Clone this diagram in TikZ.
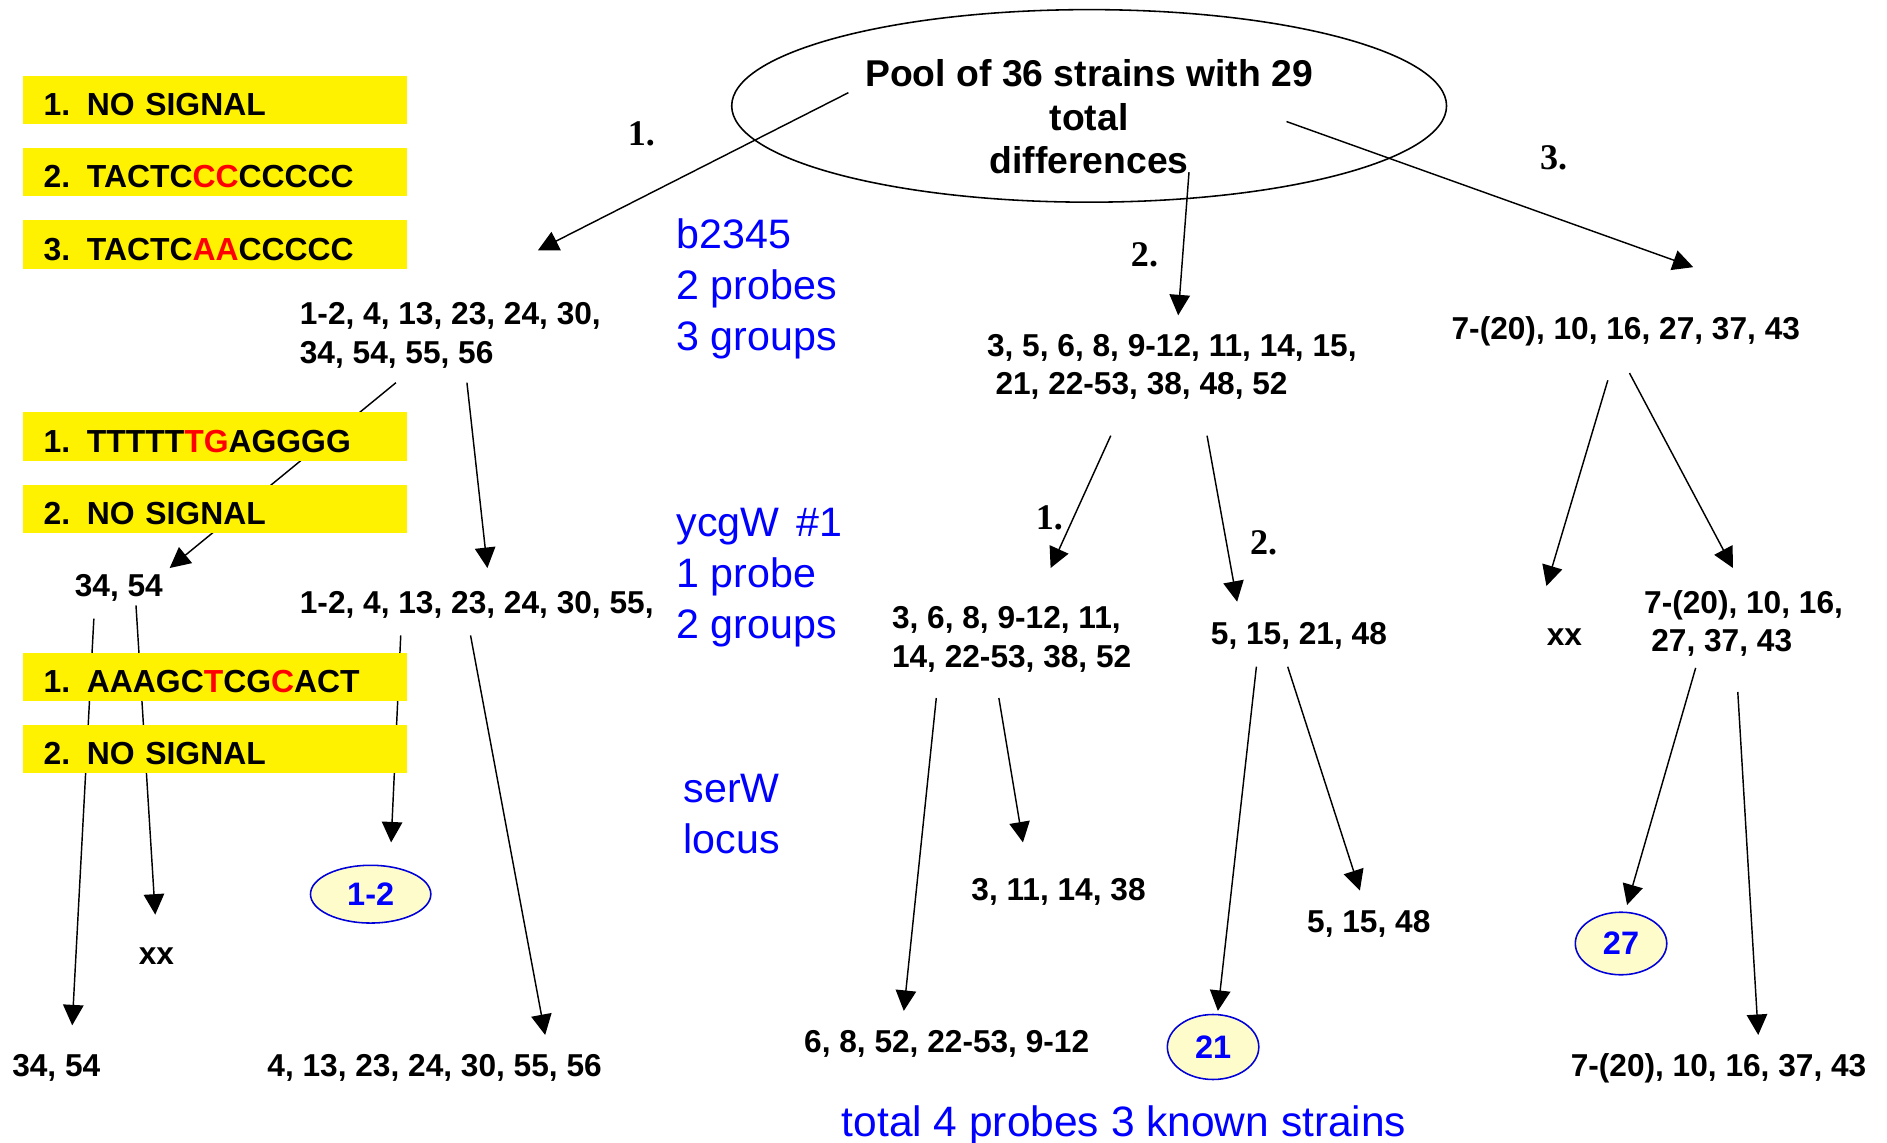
\documentclass[tikz,border=0pt]{standalone}
\usepackage{fontspec}
\setmainfont{Liberation Sans}
\newfontfamily\serifb{Liberation Serif}
\usetikzlibrary{arrows.meta,shapes.geometric}
\newcommand\boxtxt[2]{\makebox[36pt][l]{#1}#2}
\begin{document}
\begin{tikzpicture}[x=1pt,y=-1pt,
  txt/.style={inner sep=0pt, anchor=west, yshift=-2.5pt, font=\fontsize{26.3}{32}\selectfont\bfseries, align=left},
  blu/.style={inner sep=0pt, anchor=west, yshift=-3pt, font=\fontsize{34.2}{42.5}\selectfont, text=blue, align=left},
  ybox/.style={fill=yellow, anchor=north west, minimum height=40pt, text height=33pt, text depth=7pt, text width=285pt, inner xsep=17pt, inner ysep=0pt, align=left, font=\fontsize{26.5}{30}\selectfont\bfseries},
  arr/.style={-{Triangle[length=17pt,width=17pt]}, line width=1.2pt},
  lab/.style={font=\serifb\fontsize{30}{34}\selectfont\bfseries, inner sep=0pt},
  oval/.style={ellipse, draw=blue!85!black, fill=yellow!20, line width=1.3pt, text=blue, font=\fontsize{27}{30}\selectfont\bfseries, inner sep=0pt}]
\useasboundingbox (0,0) rectangle (1568,949);

% main ellipse and title
\node[ellipse, draw, line width=1.3pt, minimum width=594pt, minimum height=160pt, inner sep=0pt] (pool) at (905,88) {};
\node[inner sep=0pt, align=center, font=\fontsize{31}{36}\selectfont\bfseries] (title) at (905,97) {Pool of 36 strains with 29\\total\\differences};

% step labels
\node[lab] (s1) at (533,111) {1.};
\node[lab] (s2) at (951,212) {2.};
\node[lab] (s3) at (1291,131) {3.};
\node[lab] (s21) at (872,430) {1.};
\node[lab] (s22) at (1050,451) {2.};

% text groups
\node[txt] (A) at (249,276) {1-2, 4, 13, 23, 24, 30,\\34, 54, 55, 56};
\node[txt] (B) at (820,302.5) {3, 5, 6, 8, 9-12, 11, 14, 15,\\\hspace*{7pt}21, 22-53, 38, 48, 52};
\node[txt] (C) at (1206,273) {7-(20), 10, 16, 27, 37, 43};
\node[txt] (D) at (62,486) {34, 54};
\node[txt] (E) at (249,500) {1-2, 4, 13, 23, 24, 30, 55,};
\node[txt] (F) at (741,529) {3, 6, 8, 9-12, 11,\\14, 22-53, 38, 52};
\node[txt] (G) at (1006,526) {5, 15, 21, 48};
\node[txt, anchor=center] (H) at (1300,527) {xx};
\node[txt] (I) at (1366,515.5) {7-(20), 10, 16,\\\hspace*{6pt}27, 37, 43};
\node[txt, anchor=center] (X2) at (130,792) {xx};
\node[txt] (L1) at (10,885) {34, 54};
\node[txt] (L2) at (222,885) {4, 13, 23, 24, 30, 55, 56};
\node[txt] (M1) at (807,739) {3, 11, 14, 38};
\node[txt] (M2) at (668,865) {6, 8, 52, 22-53, 9-12};
\node[txt] (M3) at (1086,765) {5, 15, 48};
\node[txt] (R1) at (1305,885) {7-(20), 10, 16, 37, 43};

% known strains
\node[oval, minimum width=100pt, minimum height=48pt] (k12) at (308,743) {1-2};
\node[oval, minimum width=76pt, minimum height=54pt] (k21) at (1008,870) {21};
\node[oval, minimum width=76pt, minimum height=52pt] (k27) at (1347,784) {27};

% blue annotations
\node[blu] (b1) at (562,237) {b2345\\2 probes\\3 groups};
\node[blu] (b2) at (562,477) {ycgW\hspace{14pt}\#1\\1 probe\\2 groups};
\node[blu] (b3) at (568,673.5) {serW\\locus};
\node[blu, anchor=center, font=\fontsize{35.3}{40}\selectfont] (tot) at (934,932) {total 4 probes 3 known strains};

% connector end points
\coordinate (p1s) at (705,77);   \coordinate (p1e) at (447,208);
\coordinate (p2s) at (988,143);  \coordinate (p2e) at (979,262);
\coordinate (p3s) at (1069,101); \coordinate (p3e) at (1407,222);
\coordinate (a1s) at (329,318);  \coordinate (a1e) at (141,472);
\coordinate (a2s) at (388,318);  \coordinate (a2e) at (405,472);
\coordinate (d1s) at (78,514);   \coordinate (d1e) at (60,852);
\coordinate (d2s) at (113,503);  \coordinate (d2e) at (129,760);
\coordinate (e1s) at (333,528);  \coordinate (e1e) at (325,700);
\coordinate (e2s) at (391,528);  \coordinate (e2e) at (453,860);
\coordinate (b1s) at (923,362);  \coordinate (b1e) at (873,472);
\coordinate (b2s) at (1003,362); \coordinate (b2e) at (1028,500);
\coordinate (f1s) at (778,580);  \coordinate (f1e) at (751,840);
\coordinate (f2s) at (830,580);  \coordinate (f2e) at (850,700);
\coordinate (g1s) at (1044,554); \coordinate (g1e) at (1012,840);
\coordinate (g2s) at (1070,554); \coordinate (g2e) at (1130,740);
\coordinate (c1s) at (1336,316); \coordinate (c1e) at (1285,487);
\coordinate (c2s) at (1354,310); \coordinate (c2e) at (1440,472);
\coordinate (i1s) at (1409,555); \coordinate (i1e) at (1352,752);
\coordinate (i2s) at (1444,575); \coordinate (i2e) at (1461,860);

\foreach \n in {p1,p2,p3,a1,a2,d1,d2,e1,e2,b1,b2,f1,f2,g1,g2,c1,c2,i1,i2}
  \draw[arr] (\n s) -- (\n e);

% yellow probe boxes (drawn over the lines)
\node[ybox] (y1) at (19,63)  {\boxtxt{1.}{NO SIGNAL}};
\node[ybox] (y2) at (19,123) {\boxtxt{2.}{TACTC\textcolor{red}{CC}CCCCC}};
\node[ybox] (y3) at (19,183) {\boxtxt{3.}{TACTC\textcolor{red}{AA}CCCCC}};
\node[ybox] (y4) at (19,342.5) {\boxtxt{1.}{TTTTT\textcolor{red}{TG}AGGGG}};
\node[ybox] (y5) at (19,402.5) {\boxtxt{2.}{NO SIGNAL}};
\node[ybox] (y6) at (19,542) {\boxtxt{1.}{AAAGC\textcolor{red}{T}CG\textcolor{red}{C}ACT}};
\node[ybox] (y7) at (19,602) {\boxtxt{2.}{NO SIGNAL}};
\end{tikzpicture}
\end{document}
